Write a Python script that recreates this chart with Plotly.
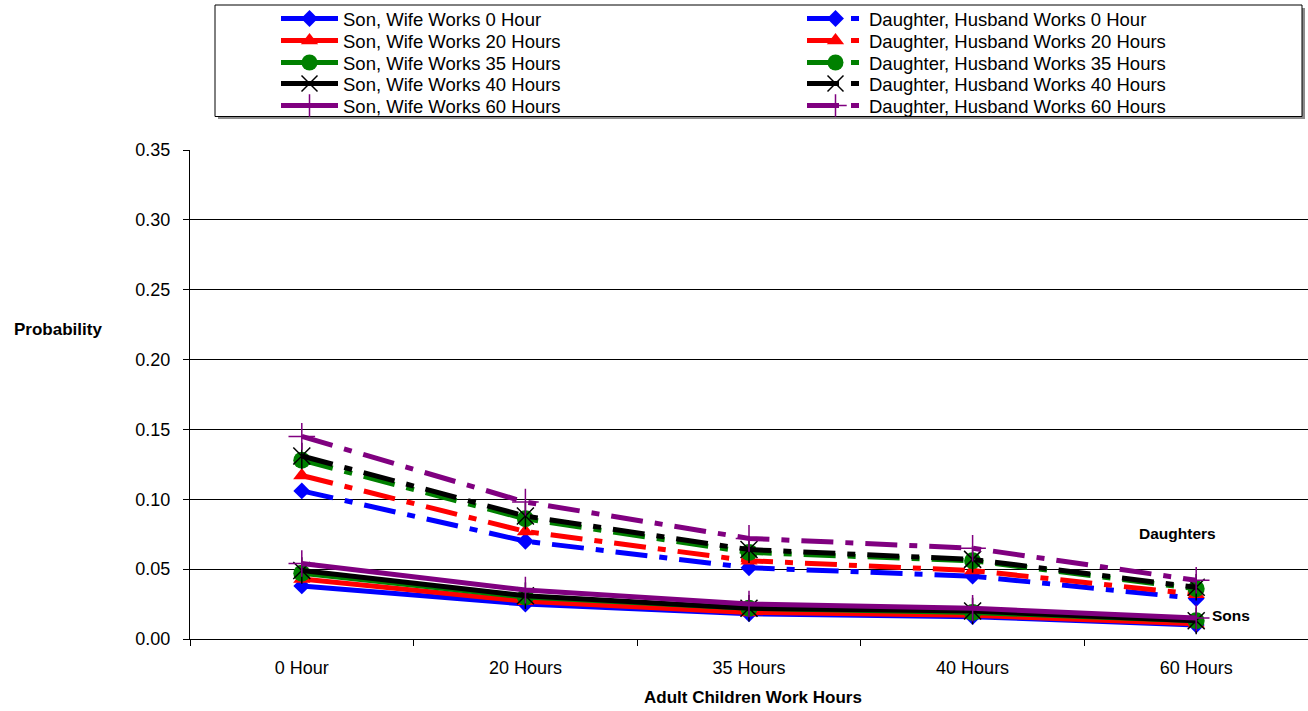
import plotly.graph_objects as go

categories = ["0 Hour", "20 Hours", "35 Hours", "40 Hours", "60 Hours"]

son_names = ["Son, Wife Works 0 Hour", "Son, Wife Works 20 Hours", "Son, Wife Works 35 Hours",
             "Son, Wife Works 40 Hours", "Son, Wife Works 60 Hours"]
dau_names = ["Daughter, Husband Works 0 Hour", "Daughter, Husband Works 20 Hours",
             "Daughter, Husband Works 35 Hours", "Daughter, Husband Works 40 Hours",
             "Daughter, Husband Works 60 Hours"]

son_0 = [0.038, 0.025, 0.018, 0.016, 0.010]
son_20 = [0.043, 0.027, 0.019, 0.017, 0.011]
son_35 = [0.047, 0.030, 0.022, 0.019, 0.013]
son_40 = [0.049, 0.031, 0.022, 0.020, 0.013]
son_60 = [0.054, 0.035, 0.025, 0.022, 0.015]

dau_0 = [0.106, 0.070, 0.051, 0.045, 0.029]
dau_20 = [0.117, 0.077, 0.056, 0.049, 0.032]
dau_35 = [0.128, 0.086, 0.062, 0.056, 0.036]
dau_40 = [0.131, 0.088, 0.064, 0.057, 0.037]
dau_60 = [0.145, 0.098, 0.072, 0.065, 0.042]

son_series = [son_0, son_20, son_35, son_40, son_60]
dau_series = [dau_0, dau_20, dau_35, dau_40, dau_60]

colors = ["#0000FF", "#FF0000", "#008000", "#000000", "#800080"]
symbols = ["diamond", "triangle-up", "circle", "x-thin-open", "cross-thin-open"]
sizes = [13, 15, 17, 17, 19]

FONT = "Liberation Sans, Arial, sans-serif"

W, H = 1308, 711
L, R, T, B = 190, 0, 150, 72
pw, ph = W - L - R, H - T - B

def px_x(x):
    return (x - L) / pw

def px_y(y):
    return (H - B - y) / ph

row_y = [19, 41, 63, 84, 106]

fig = go.Figure()

def add_series(name, vals, i, dash, legend_id):
    sym = symbols[i]
    marker = dict(symbol=sym, size=sizes[i], color=colors[i])
    if sym.endswith("-open"):
        marker["line"] = dict(color=colors[i], width=1.5)
    fig.add_trace(go.Scatter(
        x=categories, y=vals, name=name, mode="lines+markers",
        line=dict(color=colors[i], width=5, dash=dash),
        marker=marker, legend=legend_id, legendgroup=name,
    ))
    if i == 3:
        fig.add_trace(go.Scatter(
            x=categories, y=vals, mode="markers", showlegend=False,
            legendgroup=name, hoverinfo="skip",
            marker=dict(symbol="line-ns-open", size=19, color=colors[i],
                        line=dict(color=colors[i], width=1.5)),
        ))

legend_layouts = {}

def legend_key(n):
    return "legend" if n == 1 else f"legend{n}"

for i in range(5):
    n = 6 + i
    add_series(dau_names[i], dau_series[i], i, "32px,12px,8px,12px", legend_key(n))
    legend_layouts[legend_key(n)] = dict(x=px_x(802), y=px_y(row_y[i]))
for i in range(5):
    n = 1 + i
    add_series(son_names[i], son_series[i], i, "solid", legend_key(n))
    legend_layouts[legend_key(n)] = dict(x=px_x(276), y=px_y(row_y[i]))

for key, pos in legend_layouts.items():
    pos.update(dict(
        xanchor="left", yanchor="middle", orientation="v", itemwidth=57,
        bgcolor="rgba(0,0,0,0)", borderwidth=0, itemclick=False, itemdoubleclick=False,
        font=dict(family=FONT, size=18.5, color="black"),
    ))

# legend frame with a thin grey shadow
fig.add_shape(type="rect", xref="paper", yref="paper",
              x0=px_x(218), x1=px_x(1305), y0=px_y(119), y1=px_y(8),
              line=dict(width=0), fillcolor="#8c8c8c", layer="below")
fig.add_shape(type="rect", xref="paper", yref="paper",
              x0=px_x(215), x1=px_x(1302), y0=px_y(116.5), y1=px_y(5),
              line=dict(color="#000000", width=1), fillcolor="white", layer="below")

def note(text, x, y, size):
    fig.add_annotation(text=text, xref="paper", yref="paper", x=px_x(x), y=px_y(y),
                       xanchor="center", yanchor="middle", showarrow=False,
                       font=dict(family=FONT, size=size, color="black"))

note("<b>Probability</b>", 58, 329, 17)
note("<b>Adult Children Work Hours</b>", 753, 697, 17)
note("<b>Daughters</b>", 1177, 533, 15.5)
note("<b>Sons</b>", 1231, 615, 15.5)

fig.update_layout(
    width=W, height=H,
    margin=dict(l=L, r=R, t=T, b=B, pad=0),
    paper_bgcolor="white", plot_bgcolor="white",
    font=dict(family=FONT, size=17, color="black"),
    showlegend=True,
    xaxis=dict(
        type="category", range=[-0.5, 4.5], showgrid=False,
        showline=True, linecolor="black", linewidth=1,
        ticks="outside", tickson="boundaries", ticklen=6, tickcolor="black",
        tickfont=dict(family=FONT, size=18, color="black"),
        ticklabelstandoff=12, zeroline=False, fixedrange=True,
    ),
    yaxis=dict(
        range=[0, 0.35], dtick=0.05, tickformat=".2f",
        showgrid=True, gridcolor="black", gridwidth=1,
        showline=True, linecolor="black", linewidth=1,
        ticks="outside", ticklen=6, tickcolor="black",
        tickfont=dict(family=FONT, size=18, color="black"),
        ticklabelstandoff=9, zeroline=False, fixedrange=True,
    ),
    **legend_layouts,
)

fig.write_html("out.html", config={"displayModeBar": False},
               post_script="document.body.style.margin='0';")
